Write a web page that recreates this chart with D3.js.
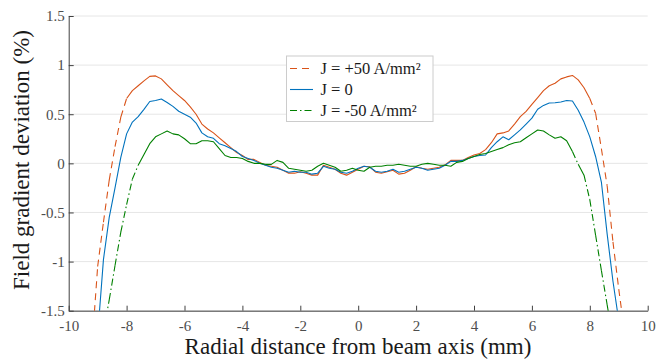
<!DOCTYPE html>
<html>
<head>
<meta charset="utf-8">
<script src="https://cdn.jsdelivr.net/npm/d3@7/dist/d3.min.js"></script>
<style>
body{margin:0;background:#fff;}
text{font-family:"Liberation Serif","Times New Roman",serif;}
</style>
</head>
<body>
<div id="chart"></div>
<script>
// radial position (mm)
const xs=[-9.2,-9.0,-8.8,-8.6,-8.4,-8.2,-8.0,-7.8,-7.6,-7.4,-7.2,-7.0,-6.8,-6.6,-6.4,-6.2,-6.0,-5.8,-5.6,-5.4,-5.2,-5.0,-4.8,-4.6,-4.4,-4.2,-4.0,-3.8,-3.6,-3.4,-3.2,-3.0,-2.8,-2.6,-2.4,-2.2,-2.0,-1.8,-1.6,-1.4,-1.2,-1.0,-0.8,-0.6,-0.4,-0.2,0.0,0.2,0.4,0.6,0.8,1.0,1.2,1.4,1.6,1.8,2.0,2.2,2.4,2.6,2.8,3.0,3.2,3.4,3.6,3.8,4.0,4.2,4.4,4.6,4.8,5.0,5.2,5.4,5.6,5.8,6.0,6.2,6.4,6.6,6.8,7.0,7.2,7.4,7.6,7.8,8.0,8.2,8.4,8.6,8.8,9.0,9.2];

// J = +50 A/mm²
const posJ=[-1.88,-1.05,-0.60,-0.17,0.17,0.47,0.66,0.74,0.79,0.84,0.885,0.89,0.86,0.80,0.74,0.69,0.64,0.575,0.50,0.40,0.35,0.31,0.26,0.21,0.16,0.11,0.08,0.04,0.04,0.01,-0.02,-0.03,-0.04,-0.07,-0.10,-0.10,-0.085,-0.10,-0.12,-0.12,-0.02,-0.04,-0.06,-0.10,-0.12,-0.09,-0.06,-0.03,-0.035,-0.09,-0.10,-0.085,-0.07,-0.11,-0.10,-0.07,-0.035,-0.05,-0.06,-0.05,-0.04,-0.015,0.03,0.03,0.03,0.06,0.085,0.10,0.14,0.21,0.30,0.31,0.33,0.40,0.475,0.53,0.60,0.67,0.74,0.79,0.815,0.86,0.88,0.895,0.85,0.77,0.66,0.51,0.15,-0.23,-0.80,-1.28,-1.72];

// J = 0
const zeroJ=[-2.35,-1.75,-0.98,-0.55,-0.25,0.06,0.30,0.42,0.475,0.55,0.63,0.64,0.655,0.62,0.58,0.53,0.50,0.47,0.41,0.31,0.27,0.255,0.20,0.18,0.15,0.12,0.07,0.05,0.03,0.00,-0.02,-0.04,-0.05,-0.07,-0.09,-0.08,-0.09,-0.09,-0.11,-0.10,-0.03,-0.05,-0.06,-0.09,-0.10,-0.08,-0.05,-0.03,-0.04,-0.08,-0.09,-0.08,-0.06,-0.09,-0.08,-0.06,-0.04,-0.05,-0.07,-0.06,-0.05,-0.02,0.02,0.02,0.03,0.05,0.07,0.08,0.085,0.16,0.22,0.27,0.24,0.29,0.34,0.40,0.46,0.55,0.59,0.615,0.617,0.625,0.64,0.635,0.54,0.42,0.27,0.07,-0.19,-0.72,-1.20,-1.60,-2.00];

// J = -50 A/mm²
const negJ=[-2.40,-2.05,-1.72,-1.39,-1.04,-0.70,-0.42,-0.16,-0.02,0.09,0.20,0.27,0.30,0.33,0.30,0.29,0.25,0.20,0.20,0.23,0.23,0.22,0.15,0.08,0.06,0.06,0.05,0.02,0.00,0.00,-0.01,-0.01,0.03,0.01,-0.05,-0.06,-0.07,-0.08,-0.07,-0.03,0.00,-0.02,-0.04,-0.08,-0.07,-0.05,-0.07,-0.08,-0.04,-0.03,-0.03,-0.02,-0.02,-0.01,-0.02,-0.03,-0.03,-0.01,0.00,-0.01,-0.02,-0.02,-0.03,0.01,0.02,0.05,0.07,0.09,0.10,0.12,0.14,0.16,0.19,0.21,0.22,0.26,0.30,0.34,0.33,0.29,0.255,0.27,0.23,0.12,-0.01,-0.12,-0.37,-0.73,-1.09,-1.44,-1.80,-2.15,-2.50];

const seriesNames=["J = +50 A/mm²","J = 0","J = -50 A/mm²"];
const xTicks=[-10,-8,-6,-4,-2,0,2,4,6,8,10];
const yTicks=[-1.5,-1,-0.5,0,0.5,1,1.5];

const W=657,H=360;
const svg=d3.select("#chart").append("svg").attr("width",W).attr("height",H);

const x=d3.scaleLinear().domain([-10,10]).range([68.7,647.7]);
const y=d3.scaleLinear().domain([-1.5,1.5]).range([310.7,16]);

svg.append("defs").append("clipPath").attr("id","plotClip")
  .append("rect").attr("x",x(-10)).attr("y",y(1.5)).attr("width",x(10)-x(-10)).attr("height",y(-1.5)-y(1.5));

// horizontal grid
svg.append("g").selectAll("line").data(yTicks).join("line")
  .attr("x1",x(-10)).attr("x2",x(10))
  .attr("y1",d=>y(d)).attr("y2",d=>y(d))
  .attr("stroke","#e6e6e6").attr("stroke-width",1);

const fmt=d=>String(d);

let xAxis=svg.append("g").attr("transform",`translate(0,${y(-1.5)})`)
  .call(d3.axisBottom(x).tickValues(xTicks).tickFormat(fmt).tickSizeInner(-5).tickSizeOuter(0).tickPadding(10));
let yAxis=svg.append("g").attr("transform",`translate(${x(-10)},0)`)
  .call(d3.axisLeft(y).tickValues(yTicks).tickFormat(fmt).tickSizeInner(-5).tickSizeOuter(0).tickPadding(4));

[xAxis,yAxis].forEach(a=>{
  a.attr("font-family",null);
  a.select(".domain").attr("stroke","#404040");
  a.selectAll(".tick line").attr("stroke","#404040");
  a.selectAll(".tick text").attr("fill","#4d4d4d").style("font-size","15px");
});

const series=[
  {name:seriesNames[0],vals:posJ,color:"#D95319",dash:"7,5"},
  {name:seriesNames[1],vals:zeroJ,color:"#0072BD",dash:null},
  {name:seriesNames[2],vals:negJ,color:"#008000",dash:"7,3,1.5,3"}
];

const plot=svg.append("g").attr("clip-path","url(#plotClip)");
const line=d3.line().x(d=>x(d[0])).y(d=>y(d[1]));

function solid(pts,color){
  plot.append("path").attr("d",line(pts)).attr("fill","none")
    .attr("stroke",color).attr("stroke-width",1.1).attr("stroke-linejoin","round");
}

// dense stretches render solid, long steep segments show the dash pattern
series.forEach(s=>{
  const pts=xs.map((xv,i)=>[xv,s.vals[i]]);
  if(!s.dash){ solid(pts,s.color); return; }
  let run=[pts[0]];
  for(let i=1;i<pts.length;i++){
    const a=pts[i-1],b=pts[i];
    const len=Math.hypot(x(b[0])-x(a[0]),y(b[1])-y(a[1]));
    if(len<13){
      run.push(b);
    }else{
      if(run.length>1) solid(run,s.color);
      plot.append("path").attr("d",line([a,b])).attr("fill","none")
        .attr("stroke",s.color).attr("stroke-width",1.1).attr("stroke-dasharray",s.dash);
      run=[b];
    }
  }
  if(run.length>1) solid(run,s.color);
});

// legend
const lg=svg.append("g");
lg.append("rect").attr("x",286.5).attr("y",56).attr("width",146.5).attr("height",65.5)
  .attr("fill","#fff").attr("stroke","#cccccc").attr("stroke-width",1);
series.forEach((s,i)=>{
  const ly=68.5+i*21;
  lg.append("line").attr("x1",290).attr("x2",313).attr("y1",ly).attr("y2",ly)
    .attr("stroke",s.color).attr("stroke-width",1.1).attr("stroke-dasharray",s.dash);
  lg.append("text").attr("x",320.5).attr("y",ly).attr("dy","0.33em")
    .style("font-size","16.5px").attr("fill","#1a1a1a").text(s.name);
});

// axis labels
svg.append("text").attr("x",358).attr("y",353.5)
  .attr("text-anchor","middle").style("font-size","23px").attr("fill","#1a1a1a")
  .text("Radial distance from beam axis (mm)");
svg.append("text").attr("transform",`translate(29,160) rotate(-90)`)
  .attr("text-anchor","middle").style("font-size","23px").attr("fill","#1a1a1a")
  .text("Field gradient deviation (%)");
</script>
</body>
</html>
